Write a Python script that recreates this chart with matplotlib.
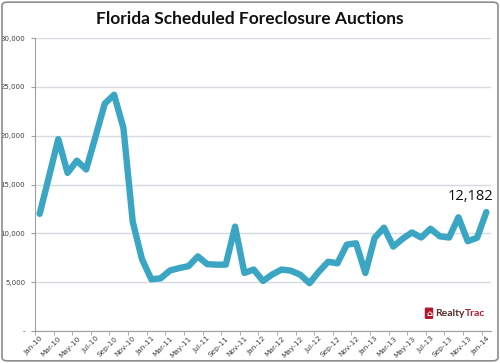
import matplotlib
matplotlib.use("Agg")
from matplotlib import pyplot as plt
from matplotlib.patches import FancyBboxPatch
from matplotlib.ticker import FixedLocator, FuncFormatter

# monthly scheduled foreclosure auctions, Jan-10 .. Jan-14
months = ['Jan-10', 'Feb-10', 'Mar-10', 'Apr-10', 'May-10', 'Jun-10', 'Jul-10', 'Aug-10',
          'Sep-10', 'Oct-10', 'Nov-10', 'Dec-10', 'Jan-11', 'Feb-11', 'Mar-11', 'Apr-11',
          'May-11', 'Jun-11', 'Jul-11', 'Aug-11', 'Sep-11', 'Oct-11', 'Nov-11', 'Dec-11',
          'Jan-12', 'Feb-12', 'Mar-12', 'Apr-12', 'May-12', 'Jun-12', 'Jul-12', 'Aug-12',
          'Sep-12', 'Oct-12', 'Nov-12', 'Dec-12', 'Jan-13', 'Feb-13', 'Mar-13', 'Apr-13',
          'May-13', 'Jun-13', 'Jul-13', 'Aug-13', 'Sep-13', 'Oct-13', 'Nov-13', 'Dec-13',
          'Jan-14']
auctions = [12000, 15800, 19650, 16200, 17450, 16550, 19900, 23300,
            24200, 20800, 11200, 7350, 5300, 5400, 6200, 6450,
            6650, 7650, 6850, 6800, 6800, 10700, 5950, 6300,
            5130, 5800, 6300, 6180, 5770, 4900, 6080, 7100,
            6940, 8850, 8990, 5950, 9550, 10590, 8650, 9450,
            10100, 9580, 10480, 9700, 9580, 11650, 9200, 9550,
            12182]

line_color = '#3ba6c4'
grid_color = '#d6dae3'
text_color = '#404040'

fig = plt.figure(figsize=(5.0, 3.63), dpi=100)
ax = fig.add_axes([0.07, 0.088, 0.912, 0.807])

x = list(range(len(months)))
ax.plot(x, auctions, color=line_color, lw=4.6, solid_joinstyle='round',
        solid_capstyle='round', zorder=3)

ax.set_xlim(-0.5, len(months) - 0.5)
ax.set_ylim(0, 30000)
ax.set_yticks(range(0, 30001, 5000))
ax.yaxis.set_major_formatter(FuncFormatter(lambda v, p: '-' if v == 0 else f'{int(v):,}'))
ax.grid(axis='y', color=grid_color, lw=1.0, zorder=0)

ax.set_xticks(x[::2])
ax.set_xticklabels(months[::2], rotation=45, ha='right', rotation_mode='anchor')
ax.xaxis.set_minor_locator(FixedLocator([i - 0.5 for i in range(0, len(months) + 1, 2)]))
ax.tick_params(axis='x', which='major', length=0, pad=3, labelsize=5.3, labelcolor=text_color)
ax.tick_params(axis='x', which='minor', length=3, color='#a0a0a0')
ax.tick_params(axis='y', length=3, color='#a0a0a0', labelsize=5, labelcolor=text_color, pad=4)

for side in ['top', 'right']:
    ax.spines[side].set_visible(False)
for side in ['left', 'bottom']:
    ax.spines[side].set_color('#a0a0a0')
    ax.spines[side].set_linewidth(0.8)

ax.annotate(f'{auctions[-1]:,}', xy=(x[-1], auctions[-1]), xytext=(5, 6),
            textcoords='offset points', ha='right', va='bottom', fontsize=10.5,
            family='Open Sans', color='#111111')

fig.text(0.5, 0.948, 'Florida Scheduled Foreclosure Auctions', ha='center', va='center',
         fontsize=12.5, fontweight='bold', family='Lato', color='#111111')

# logo
fig.text(0.858, 0.137, '\u2302', ha='center', va='center', fontsize=6, color='white',
         fontweight='bold',
         bbox=dict(boxstyle='round,pad=0.15', fc='#b01c2e', ec='none'))
realty = fig.text(0.870, 0.137, 'Realty', ha='left', va='center', fontsize=7.5,
                  color='#5a2a2a', fontweight='bold', family='Lato')
fig.canvas.draw()
bb = realty.get_window_extent().transformed(fig.transFigure.inverted())
fig.text(bb.x1, 0.137, 'Trac', ha='left', va='center', fontsize=7.5, color='#b01c2e',
         fontweight='bold', family='Lato')

border = FancyBboxPatch((0.004, 0.006), 0.992, 0.988, boxstyle='round,pad=0,rounding_size=0.01',
                        transform=fig.transFigure, fc='none', ec='#8c8c8c', lw=1.2)
fig.patches.append(border)

fig.savefig('out.png', dpi=100)
